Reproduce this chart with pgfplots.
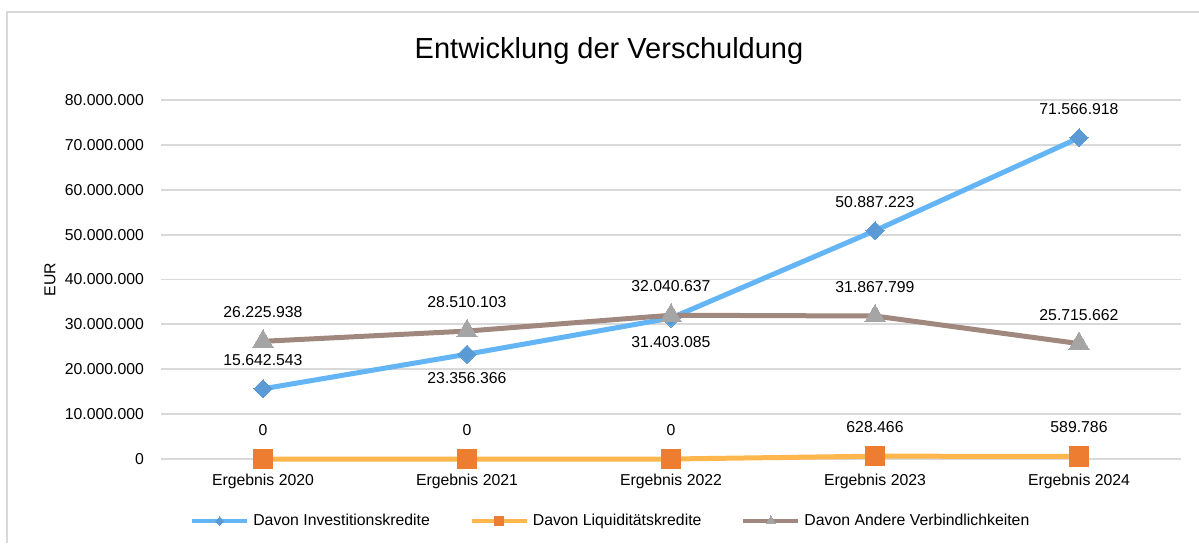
\documentclass[border=0pt]{standalone}
\usepackage{fontspec}
\setmainfont{Liberation Sans}
\usepackage{pgfplots}
\pgfplotsset{compat=1.18}

\definecolor{invline}{HTML}{64B5F6}
\definecolor{invmark}{HTML}{5B9BD5}
\definecolor{liqline}{HTML}{FFB74D}
\definecolor{liqmark}{HTML}{ED7D31}
\definecolor{andline}{HTML}{A1887F}
\definecolor{andmark}{HTML}{A5A5A5}
\definecolor{gridgray}{HTML}{D9D9D9}

\newcommand{\lbl}{\fontsize{7.9}{9.5}\selectfont}

\begin{document}
\begin{tikzpicture}
\useasboundingbox (0,0) rectangle (599.5pt,-271.5pt);
\draw[gridgray, line width=1pt] (3.5pt,-271.5pt) -- (3.5pt,-6pt) -- (599.5pt,-6pt);
\node at (304.5pt,-25.5pt) {\fontsize{14.5}{17}\selectfont Entwicklung der Verschuldung};

\begin{axis}[
  at={(80.5pt,-229.5pt)}, anchor=south west,
  scale only axis, width=510pt, height=179.5pt,
  xmin=-0.5, xmax=4.5, ymin=0, ymax=80000000,
  scaled y ticks=false,
  xtick={0,1,2,3,4},
  xticklabels={Ergebnis 2020,Ergebnis 2021,Ergebnis 2022,Ergebnis 2023,Ergebnis 2024},
  ytick={0,10000000,20000000,30000000,40000000,50000000,60000000,70000000,80000000},
  yticklabels={0,10.000.000,20.000.000,30.000.000,40.000.000,50.000.000,60.000.000,70.000.000,80.000.000},
  axis line style={draw=none},
  major tick length=0pt,
  ymajorgrids,
  grid style={gridgray, line width=0.9pt},
  ylabel={EUR},
  tick label style={font=\lbl},
  label style={font=\lbl},
  ylabel style={at={(axis description cs:-0.1088,0.5)}, anchor=center},
  xticklabel style={anchor=north, yshift=-4pt},
  yticklabel style={anchor=east, xshift=-5pt},
  clip=false,
  line join=round,
  legend columns=3,
  legend style={draw=none, fill=none, font=\lbl,
    at={(0.442,-0.1727)}, anchor=center,
    /tikz/every even column/.append style={column sep=18pt}},
  legend image code/.code={
    \draw[mark repeat=2, mark phase=2, #1, line width=2pt, /tikz/every mark/.append style={scale=0.45}]
      plot coordinates {(0pt,0pt) (13.75pt,0pt) (27.5pt,0pt)};
  },
]

% Davon Investitionskredite
\addplot[color=invline, line width=2.5pt, mark=square*, mark size=3.2pt,
  mark options={rotate=45, fill=invmark, draw=invmark, line width=0pt}] coordinates {
  (0, 15642543) (1, 23356366) (2, 31403085) (3, 50887223) (4, 71566918)
};
\addlegendentry{Davon Investitionskredite}

% Davon Liquiditaetskredite
\addplot[color=liqline, line width=2.5pt, mark=square*, mark size=4.9pt,
  mark options={fill=liqmark, draw=liqmark, line width=0pt}] coordinates {
  (0, 0) (1, 0) (2, 0) (3, 628466) (4, 589786)
};
\addlegendentry{Davon Liquiditätskredite}

% Davon Andere Verbindlichkeiten
\addplot[color=andline, line width=2.5pt, mark=triangle*, mark size=5.8pt,
  mark options={fill=andmark, draw=andmark, line width=0pt}] coordinates {
  (0, 26225938) (1, 28510103) (2, 32040637) (3, 31867799) (4, 25715662)
};
\addlegendentry{Davon Andere Verbindlichkeiten}

% data labels above the points
\addplot[draw=none, mark=none, forget plot, nodes near coords, point meta=explicit symbolic,
  every node near coord/.append style={font=\lbl, anchor=center, yshift=14.5pt}] coordinates {
  (0, 15642543)[15.642.543] (3, 50887223)[50.887.223] (4, 71566918)[71.566.918]
  (0, 0)[0] (1, 0)[0] (2, 0)[0] (3, 628466)[628.466] (4, 589786)[589.786]
  (0, 26225938)[26.225.938] (1, 28510103)[28.510.103] (2, 32040637)[32.040.637]
  (3, 31867799)[31.867.799] (4, 25715662)[25.715.662]
};
% data labels below the points
\addplot[draw=none, mark=none, forget plot, nodes near coords, point meta=explicit symbolic,
  every node near coord/.append style={font=\lbl, anchor=center, yshift=-12pt}] coordinates {
  (1, 23356366)[23.356.366] (2, 31403085)[31.403.085]
};
\end{axis}
\end{tikzpicture}
\end{document}
